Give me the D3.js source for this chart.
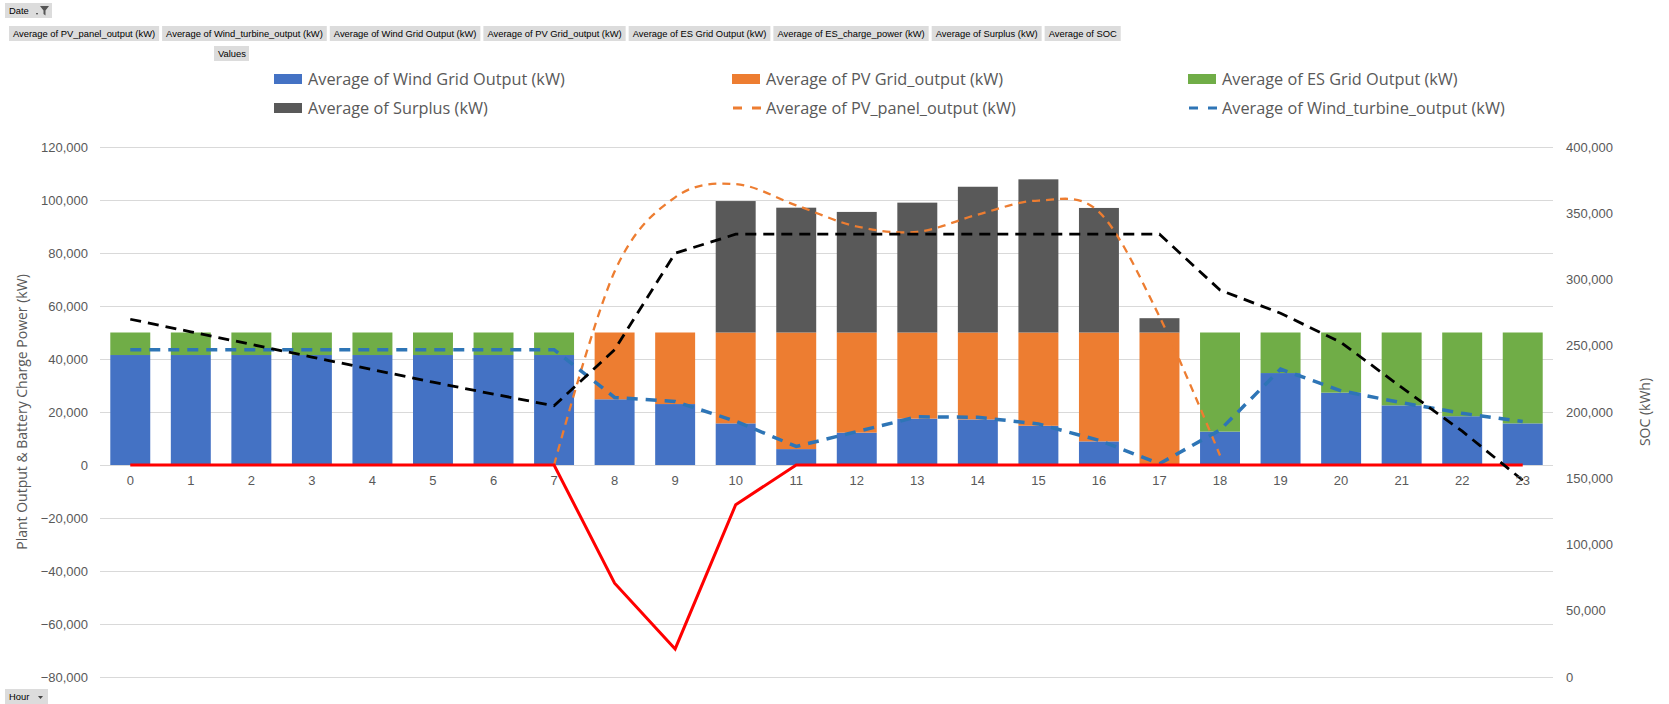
<!DOCTYPE html>
<html>
<head>
<meta charset="utf-8">
<script src="https://cdn.jsdelivr.net/npm/d3@7/dist/d3.min.js"></script>
<style>
  body { margin: 0; background: #fff; }
  svg  { display: block; font-family: "Open Sans", sans-serif; }
  .axis text { fill: #595959; font-size: 13px; }
  .axis .domain { display: none; }
  .grid line { stroke: #d9d9d9; }
  .grid .domain, .grid text { display: none; }
  .btn text { font-family: "Liberation Sans", Arial, sans-serif; font-size: 9.4px; fill: #000; }
</style>
</head>
<body>
<script>
// hour categories
var hours = ["0","1","2","3","4","5","6","7","8","9","10","11",
             "12","13","14","15","16","17","18","19","20","21","22","23"];

// stacked columns (kW)
var windGrid = [41500, 41500, 41500, 41500, 41500, 41500, 41500, 41500, 24800, 23000, 15700, 6000,
                12200, 17500, 17200, 14800,  8900,     0, 12600, 34700, 27300, 22500, 18400, 15700];
var pvGrid   = [    0,     0,     0,     0,     0,     0,     0,     0, 25200, 27000, 34300, 44000,
                37800, 32500, 32800, 35200, 41100, 50000,     0,     0,     0,     0,     0,     0];
var esGrid   = [ 8500,  8500,  8500,  8500,  8500,  8500,  8500,  8500,     0,     0,     0,     0,
                    0,     0,     0,     0,     0,     0, 37400, 15300, 22700, 27500, 31600, 34300];
var surplus  = [    0,     0,     0,     0,     0,     0,     0,     0,     0,     0, 49600, 47100,
                45500, 49000, 55000, 57800, 47000,  5400,     0,     0,     0,     0,     0,     0];

// lines (kW, left axis)
var pvPanel  = [ null,  null,  null,  null,  null,  null,  null,     0, 73000, 101000, 106000, 98000,
                90000, 88000, 94500, 99800, 95500, 56000,  3600,  null,  null,  null,  null,  null];
var windTurb = [43500, 43500, 43500, 43500, 43500, 43500, 43500, 43500, 25500, 24000, 16500,  7000,
                12600, 18200, 18000, 15500,  9300,   500, 13200, 36200, 28000, 23500, 19500, 16400];
var esCharge = [    0,     0,     0,     0,     0,     0,     0,     0, -44600, -69400, -15000,    0,
                    0,     0,     0,     0,     0,     0,     0,     0,     0,     0,     0,     0];

// SOC (kWh, right axis)
var soc      = [270000, 260500, 251000, 241500, 232000, 222500, 213500, 204700, 247000, 319800, 334200, 334200,
                334200, 334200, 334200, 334200, 334200, 334200, 292000, 274500, 252500, 218500, 185500, 148500];

var leftTicks  = [-80000, -60000, -40000, -20000, 0, 20000, 40000, 60000, 80000, 100000, 120000];
var rightTicks = [0, 50000, 100000, 150000, 200000, 250000, 300000, 350000, 400000];

var fieldNames = ["Average of PV_panel_output (kW)", "Average of Wind_turbine_output (kW)",
                  "Average of Wind Grid Output (kW)", "Average of PV Grid_output (kW)",
                  "Average of ES Grid Output (kW)", "Average of ES_charge_power (kW)",
                  "Average of Surplus (kW)", "Average of SOC"];

var W = 1669, H = 704;
var plotL = 100, plotR = 1553, plotT = 147, plotB = 677;

var svg = d3.select("body").append("svg")
    .attr("width", W)
    .attr("height", H);

var x = d3.scaleBand()
    .domain(hours)
    .range([plotL, plotR])
    .paddingInner(0.34)
    .paddingOuter(0.17);

var yL = d3.scaleLinear().domain([-80000, 120000]).range([plotB, plotT]);
var yR = d3.scaleLinear().domain([0, 400000]).range([plotB, plotT]);
var cx = (h) => x(h) + x.bandwidth() / 2;
var fmt = d3.format(",");

// gridlines
svg.append("g")
   .attr("class", "grid")
   .attr("transform", "translate(" + plotL + ",0)")
   .call(d3.axisLeft(yL).tickValues(leftTicks).tickSize(-(plotR - plotL)));

// stacked bars
var table = hours.map((h, i) => ({
    hour: h, wind: windGrid[i], pv: pvGrid[i], es: esGrid[i], surplus: surplus[i]
}));
var keys   = ["wind", "pv", "es", "surplus"];
var colors = {wind: "#4472c4", pv: "#ed7d31", es: "#70ad47", surplus: "#595959"};
var series = d3.stack().keys(keys)(table);

svg.append("g")
   .selectAll("g")
   .data(series)
   .enter().append("g")
   .attr("fill", (d) => colors[d.key])
   .selectAll("rect")
   .data((d) => d.filter((p) => p[1] > p[0]))
   .enter().append("rect")
   .attr("x", (d) => x(d.data.hour))
   .attr("width", x.bandwidth())
   .attr("y", (d) => yL(d[1]))
   .attr("height", (d) => yL(d[0]) - yL(d[1]));

// lines
var pair = (arr) => hours.map((h, i) => ({h: h, v: arr[i]}));
var lineL = d3.line()
    .defined((d) => d.v !== null)
    .x((d) => cx(d.h))
    .y((d) => yL(d.v));

svg.append("path")
   .datum(pair(pvPanel))
   .attr("fill", "none")
   .attr("stroke", "#ed7d31")
   .attr("stroke-width", 2.3)
   .attr("stroke-dasharray", "8,6")
   .attr("d", lineL.curve(d3.curveCardinal.tension(0)));

lineL.curve(d3.curveLinear);

svg.append("path")
   .datum(pair(windTurb))
   .attr("fill", "none")
   .attr("stroke", "#2e75b6")
   .attr("stroke-width", 3.5)
   .attr("stroke-dasharray", "11,8")
   .attr("d", lineL);

svg.append("path")
   .datum(pair(esCharge))
   .attr("fill", "none")
   .attr("stroke", "#ff0000")
   .attr("stroke-width", 3)
   .attr("d", lineL);

svg.append("path")
   .datum(pair(soc))
   .attr("fill", "none")
   .attr("stroke", "#000")
   .attr("stroke-width", 2.8)
   .attr("stroke-dasharray", "11,7")
   .attr("d", d3.line().x((d) => cx(d.h)).y((d) => yR(d.v)));

// axes
svg.append("g")
   .attr("class", "axis")
   .attr("transform", "translate(" + (plotL - 12) + ",0)")
   .call(d3.axisLeft(yL).tickValues(leftTicks).tickSize(0).tickPadding(0).tickFormat(fmt));

svg.append("g")
   .attr("class", "axis")
   .attr("transform", "translate(" + (plotR + 13) + ",0)")
   .call(d3.axisRight(yR).tickValues(rightTicks).tickSize(0).tickPadding(0).tickFormat(fmt));

svg.append("g")
   .attr("class", "axis")
   .attr("transform", "translate(0," + yL(0) + ")")
   .call(d3.axisBottom(x).tickSize(0).tickPadding(11));

svg.append("text")
   .attr("transform", "translate(27," + (plotT + plotB) / 2 + ") rotate(-90)")
   .attr("text-anchor", "middle")
   .attr("fill", "#595959")
   .attr("font-size", 14)
   .text("Plant Output & Battery Charge Power (kW)");

svg.append("text")
   .attr("transform", "translate(1650," + (plotT + plotB) / 2 + ") rotate(-90)")
   .attr("text-anchor", "middle")
   .attr("fill", "#595959")
   .attr("font-size", 14)
   .text("SOC (kWh)");

// legend
var legendItems = [
    {label: "Average of Wind Grid Output (kW)",    color: "#4472c4", type: "box",  col: 0, row: 0},
    {label: "Average of PV Grid_output (kW)",      color: "#ed7d31", type: "box",  col: 1, row: 0},
    {label: "Average of ES Grid Output (kW)",      color: "#70ad47", type: "box",  col: 2, row: 0},
    {label: "Average of Surplus (kW)",             color: "#595959", type: "box",  col: 0, row: 1},
    {label: "Average of PV_panel_output (kW)",     color: "#ed7d31", type: "dash", col: 1, row: 1},
    {label: "Average of Wind_turbine_output (kW)", color: "#2e75b6", type: "dash", col: 2, row: 1}
];
var legendCols = [274, 732, 1188];
var legendRows = [79, 108];

var lg = svg.append("g")
    .selectAll("g")
    .data(legendItems)
    .enter().append("g")
    .attr("transform", (d) => "translate(" + legendCols[d.col] + "," + legendRows[d.row] + ")");

lg.filter((d) => d.type === "box")
  .append("rect")
  .attr("y", -5).attr("width", 28).attr("height", 10)
  .attr("fill", (d) => d.color);

lg.filter((d) => d.type === "dash")
  .append("line")
  .attr("x1", 1).attr("x2", 29)
  .attr("stroke", (d) => d.color)
  .attr("stroke-width", 3)
  .attr("stroke-dasharray", "9,10");

lg.append("text")
  .attr("x", 34)
  .attr("dy", "0.35em")
  .attr("font-size", 16.3)
  .attr("fill", "#595959")
  .text((d) => d.label);

// pivot field buttons
var btnFill = "#dcdcdc";
var bx = 9;
fieldNames.forEach((name) => {
    var g = svg.append("g").attr("class", "btn").attr("transform", "translate(" + bx + ",26)");
    var r = g.append("rect").attr("height", 15).attr("fill", btnFill);
    var t = g.append("text").attr("x", 4).attr("y", 11).text(name);
    var w = t.node().getComputedTextLength() + 8;
    r.attr("width", w);
    bx += w + 3;
});

var dateBtn = svg.append("g").attr("class", "btn").attr("transform", "translate(5,3)");
dateBtn.append("rect").attr("width", 47).attr("height", 15).attr("fill", btnFill);
dateBtn.append("text").attr("x", 4).attr("y", 11).text("Date");
dateBtn.append("path").attr("d", "M31,10 l2,0 l-1,2 z").attr("fill", "#333");
dateBtn.append("path").attr("d", "M35,3 l9,0 l-3.5,4.5 l0,5 l-2,-1.5 l0,-3.5 z").attr("fill", "#555");

var valBtn = svg.append("g").attr("class", "btn").attr("transform", "translate(214,46)");
valBtn.append("rect").attr("width", 35).attr("height", 15).attr("fill", btnFill);
valBtn.append("text").attr("x", 4).attr("y", 11).text("Values");

var hourBtn = svg.append("g").attr("class", "btn").attr("transform", "translate(5,689)");
hourBtn.append("rect").attr("width", 43).attr("height", 15).attr("fill", btnFill);
hourBtn.append("text").attr("x", 4).attr("y", 11).text("Hour");
hourBtn.append("path").attr("d", "M33,7 l5,0 l-2.5,3 z").attr("fill", "#444");
</script>
</body>
</html>
